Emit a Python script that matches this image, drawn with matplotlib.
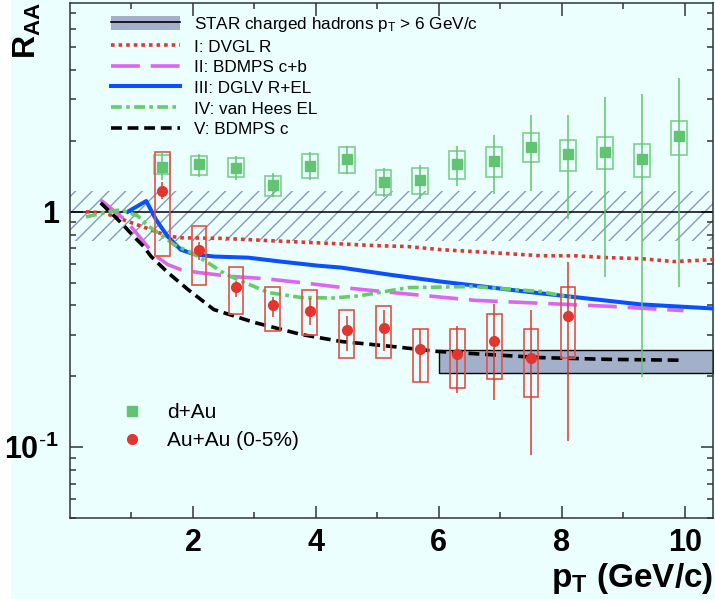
import numpy as np
import matplotlib.pyplot as plt
from matplotlib.lines import Line2D
from matplotlib.patches import Patch, Rectangle

plt.rcParams['font.family'] = ['Liberation Sans', 'DejaVu Sans']
plt.rcParams['mathtext.fontset'] = 'custom'
plt.rcParams['mathtext.rm'] = 'Liberation Sans'
plt.rcParams['mathtext.it'] = 'Liberation Sans:italic'
plt.rcParams['mathtext.bf'] = 'Liberation Sans:bold'
plt.rcParams['hatch.linewidth'] = 1.0

# d+Au data: value, stat. errors, syst. boxes
pt_dau = [1.5, 2.1, 2.7, 3.3, 3.9, 4.5, 5.1, 5.7, 6.3, 6.9, 7.5, 8.1, 8.7, 9.3, 9.9]
raa_dau = [1.55, 1.60, 1.54, 1.30, 1.57, 1.68, 1.34, 1.37, 1.60, 1.64, 1.88, 1.76, 1.80, 1.68, 2.10]
stat_lo_dau = [1.37, 1.40, 1.37, 1.16, 1.36, 1.45, 1.16, 1.13, 1.29, 1.19, 1.22, 0.93, 0.53, 0.198, 0.48]
stat_hi_dau = [1.80, 1.76, 1.73, 1.46, 1.80, 1.90, 1.54, 1.58, 1.90, 2.12, 2.58, 2.58, 3.07, 3.16, 3.70]
sys_lo_dau = [1.44, 1.43, 1.40, 1.17, 1.39, 1.46, 1.18, 1.19, 1.38, 1.41, 1.63, 1.49, 1.52, 1.41, 1.74]
sys_hi_dau = [1.74, 1.73, 1.69, 1.42, 1.76, 1.88, 1.51, 1.54, 1.81, 1.88, 2.16, 2.02, 2.08, 1.94, 2.43]

# Au+Au 0-5% data
pt_auau = [1.5, 2.1, 2.7, 3.3, 3.9, 4.5, 5.1, 5.7, 6.3, 6.9, 7.5, 8.1]
raa_auau = [1.23, 0.69, 0.48, 0.40, 0.38, 0.313, 0.32, 0.26, 0.248, 0.281, 0.238, 0.362]
stat_lo_auau = [1.13, 0.626, 0.436, 0.356, 0.329, 0.255, 0.255, 0.19, 0.169, 0.158, 0.093, 0.106]
stat_hi_auau = [1.34, 0.746, 0.51, 0.436, 0.432, 0.362, 0.384, 0.319, 0.326, 0.404, 0.384, 0.614]
sys_lo_auau = [0.65, 0.49, 0.366, 0.31, 0.298, 0.238, 0.238, 0.19, 0.178, 0.194, 0.163, 0.24]
sys_hi_auau = [1.80, 0.873, 0.585, 0.481, 0.463, 0.384, 0.396, 0.319, 0.319, 0.366, 0.316, 0.481]

# normalisation uncertainty band and STAR charged hadrons band
norm_lo, norm_hi = 0.753, 1.23
star_lo, star_hi = 0.206, 0.258
star_pt_min = 6.0

# model curves
x_dvgl = [0.26, 0.55, 0.94, 1.2, 1.47, 1.57, 1.8, 2.5, 3.4, 4.41, 4.95, 5.5, 6.03, 6.57, 7.1, 7.66, 8.2, 8.75, 9.28, 9.83, 10.47]
y_dvgl = [1.0, 0.99, 0.91, 0.86, 0.81, 0.79, 0.775, 0.77, 0.75, 0.73, 0.718, 0.711, 0.69, 0.677, 0.664, 0.65, 0.65, 0.638, 0.632, 0.614, 0.626]

x_bdmps_cb = [0.5, 0.86, 1.0, 1.37, 1.59, 1.8, 2.08, 2.62, 3.15, 3.76, 4.41, 5.38, 6.6, 7.7, 8.8, 9.37, 9.98]
y_bdmps_cb = [1.12, 0.94, 0.86, 0.657, 0.596, 0.568, 0.552, 0.531, 0.52, 0.50, 0.477, 0.45, 0.42, 0.408, 0.396, 0.388, 0.38]

x_dglv = [0.94, 1.24, 1.4, 1.59, 1.8, 2.02, 2.34, 2.9, 3.43, 4.03, 4.41, 5.2, 6.03, 7.66, 9.28, 10.47]
y_dglv = [1.0, 1.11, 0.925, 0.784, 0.69, 0.66, 0.645, 0.638, 0.614, 0.59, 0.579, 0.54, 0.505, 0.45, 0.404, 0.388]

x_vanhees = [0.26, 0.55, 0.83, 1.1, 1.27, 1.43, 1.69, 2.02, 2.24, 2.46, 2.62, 3.22, 3.76, 4.29, 4.73, 5.5, 6.57, 7.66, 8.15]
y_vanhees = [0.95, 0.99, 1.02, 0.96, 0.87, 0.815, 0.725, 0.66, 0.608, 0.557, 0.53, 0.454, 0.432, 0.43, 0.44, 0.476, 0.481, 0.458, 0.432]

x_bdmps_c = [0.5, 0.83, 1.04, 1.2, 1.32, 1.59, 1.92, 2.34, 2.99, 3.76, 4.41, 5.22, 5.98, 6.73, 7.66, 8.75, 9.93]
y_bdmps_c = [1.09, 0.898, 0.784, 0.711, 0.645, 0.552, 0.467, 0.384, 0.339, 0.301, 0.281, 0.268, 0.255, 0.248, 0.240, 0.236, 0.234]

bg = '#ebffff'
c_green = '#62c472'
c_green_box = '#7ccf8a'
c_red = '#e2352e'
c_red_box = '#e65048'

fig = plt.figure(figsize=(7.15, 6.02), dpi=100, facecolor='white')
fig.patches.append(Rectangle((11 / 715, 3 / 602), 1, 1, transform=fig.transFigure,
                             facecolor=bg, edgecolor='none', zorder=-10))
ax = fig.add_axes([70 / 715, 84 / 602, 643 / 715, 515 / 602])
ax.set_facecolor(bg)
ax.set_yscale('log')
ax.set_xlim(0, 10.46)
ax.set_ylim(0.05, 7.7)

# bands
ax.axhspan(norm_lo, norm_hi, facecolor='none', edgecolor='#8c98bb', hatch='//', lw=0, zorder=1)
ax.axhline(1.0, color='black', lw=1.1, zorder=2)
ax.fill_between([star_pt_min, 10.46], star_lo, star_hi, facecolor='#a3b0c9',
                edgecolor='black', lw=1.0, zorder=2)

# models
lw = 2.6
ax.plot(x_dvgl, y_dvgl, color='#e03a30', lw=lw, ls=(0, (1, 1.1)), zorder=4)
ax.plot(x_bdmps_cb, y_bdmps_cb, color='#dd66f0', lw=lw, ls=(0, (8, 3)), zorder=4)
ax.plot(x_dglv, y_dglv, color='#0a50ff', lw=lw + 0.3, ls='-', zorder=4)
ax.plot(x_vanhees, y_vanhees, color='#66cc66', lw=lw, ls=(0, (3, 1.2, 1, 1.2)), zorder=4)
ax.plot(x_bdmps_c, y_bdmps_c, color='black', lw=lw, ls=(0, (3, 1.6)), zorder=4)

# d+Au: systematic boxes and stat. errors
box_w = 0.26
ax.bar(pt_dau, np.subtract(sys_hi_dau, sys_lo_dau), bottom=sys_lo_dau, width=box_w,
       fill=False, edgecolor=c_green_box, lw=1.2, zorder=5)
ax.errorbar(pt_dau, raa_dau,
            yerr=[np.subtract(raa_dau, stat_lo_dau), np.subtract(stat_hi_dau, raa_dau)],
            fmt='s', color=c_green, ms=6.5, elinewidth=1.1, capsize=0, zorder=6)

# Au+Au
ax.bar(pt_auau, np.subtract(sys_hi_auau, sys_lo_auau), bottom=sys_lo_auau, width=0.24,
       fill=False, edgecolor=c_red_box, lw=1.2, zorder=5)
ax.errorbar(pt_auau, raa_auau,
            yerr=[np.subtract(raa_auau, stat_lo_auau), np.subtract(stat_hi_auau, raa_auau)],
            fmt='o', color=c_red, ms=7, elinewidth=1.1, capsize=0, zorder=6)

# axes and ticks
for s in ax.spines.values():
    s.set_color('#333333')
    s.set_linewidth(1.1)
ax.set_xticks([2, 4, 6, 8, 10], labels=['2', '4', '6', '8', '10'])
ax.set_xticks([1, 3, 5, 7, 9], minor=True)
ax.set_yticks([0.1, 1], labels=[r'$\mathbf{10^{\text{-}1}}$', '1'])
ax.set_yticks([0.05, 0.06, 0.07, 0.08, 0.09, 0.2, 0.3, 0.4, 0.5, 0.6, 0.7, 0.8, 0.9,
               2, 3, 4, 5, 6, 7], minor=True)
ax.yaxis.set_minor_formatter(plt.NullFormatter())
ax.tick_params(which='both', direction='in', top=True, right=True, color='#333333', width=1.1)
ax.tick_params(which='major', length=9)
ax.tick_params(which='minor', length=4.5)
ax.tick_params(axis='x', which='major', pad=7)
ax.tick_params(axis='y', which='major', pad=8)
for lab in ax.get_xticklabels() + ax.get_yticklabels():
    lab.set_fontsize(22)
    lab.set_fontweight('bold')

ax.set_xlabel(r'$\mathbf{p_{T}}$ (GeV/c)', fontsize=24, fontweight='bold', loc='right', labelpad=2)
fig.text(12 / 715, 1 - 2 / 602, r'$\mathbf{R_{AA}}$', rotation=90, fontsize=23,
         ha='left', va='top')

# model legend
model_handles = [
    (Patch(facecolor='#a3b0c9', edgecolor='none'), Line2D([], [], color='black', lw=1.2)),
    Line2D([], [], color='#e03a30', lw=lw, ls=(0, (1, 1.1))),
    Line2D([], [], color='#dd66f0', lw=lw, ls=(0, (8, 3))),
    Line2D([], [], color='#0a50ff', lw=lw + 0.3),
    Line2D([], [], color='#66cc66', lw=lw, ls=(0, (3, 1.2, 1, 1.2))),
    Line2D([], [], color='black', lw=lw, ls=(0, (3, 1.6))),
]
model_labels = [r'STAR charged hadrons p$_{\rm T}$ > 6 GeV/c', 'I: DVGL R', 'II: BDMPS c+b',
                'III: DGLV R+EL', 'IV: van Hees EL', 'V: BDMPS c']
leg1 = ax.legend(model_handles, model_labels, loc='upper left',
                 bbox_to_anchor=(111 / 715, 1 - 15 / 602), bbox_transform=fig.transFigure,
                 frameon=False, fontsize=12.3, handlelength=4.05, handleheight=0.95,
                 handletextpad=0.8, labelspacing=0.26, borderpad=0, borderaxespad=0)
ax.add_artist(leg1)

# data legend
data_handles = [Line2D([], [], marker='s', color=c_green, ls='none', ms=6.5),
                Line2D([], [], marker='o', color=c_red, ls='none', ms=7)]
ax.legend(data_handles, ['d+Au', 'Au+Au (0-5%)'], loc='upper left',
          bbox_to_anchor=(122 / 715, 1 - 403 / 602), bbox_transform=fig.transFigure,
          frameon=False, fontsize=15, handlelength=1.0, handletextpad=1.18,
          labelspacing=0.45, borderpad=0, borderaxespad=0)

fig.savefig('out.png', dpi=100, facecolor=fig.get_facecolor())
